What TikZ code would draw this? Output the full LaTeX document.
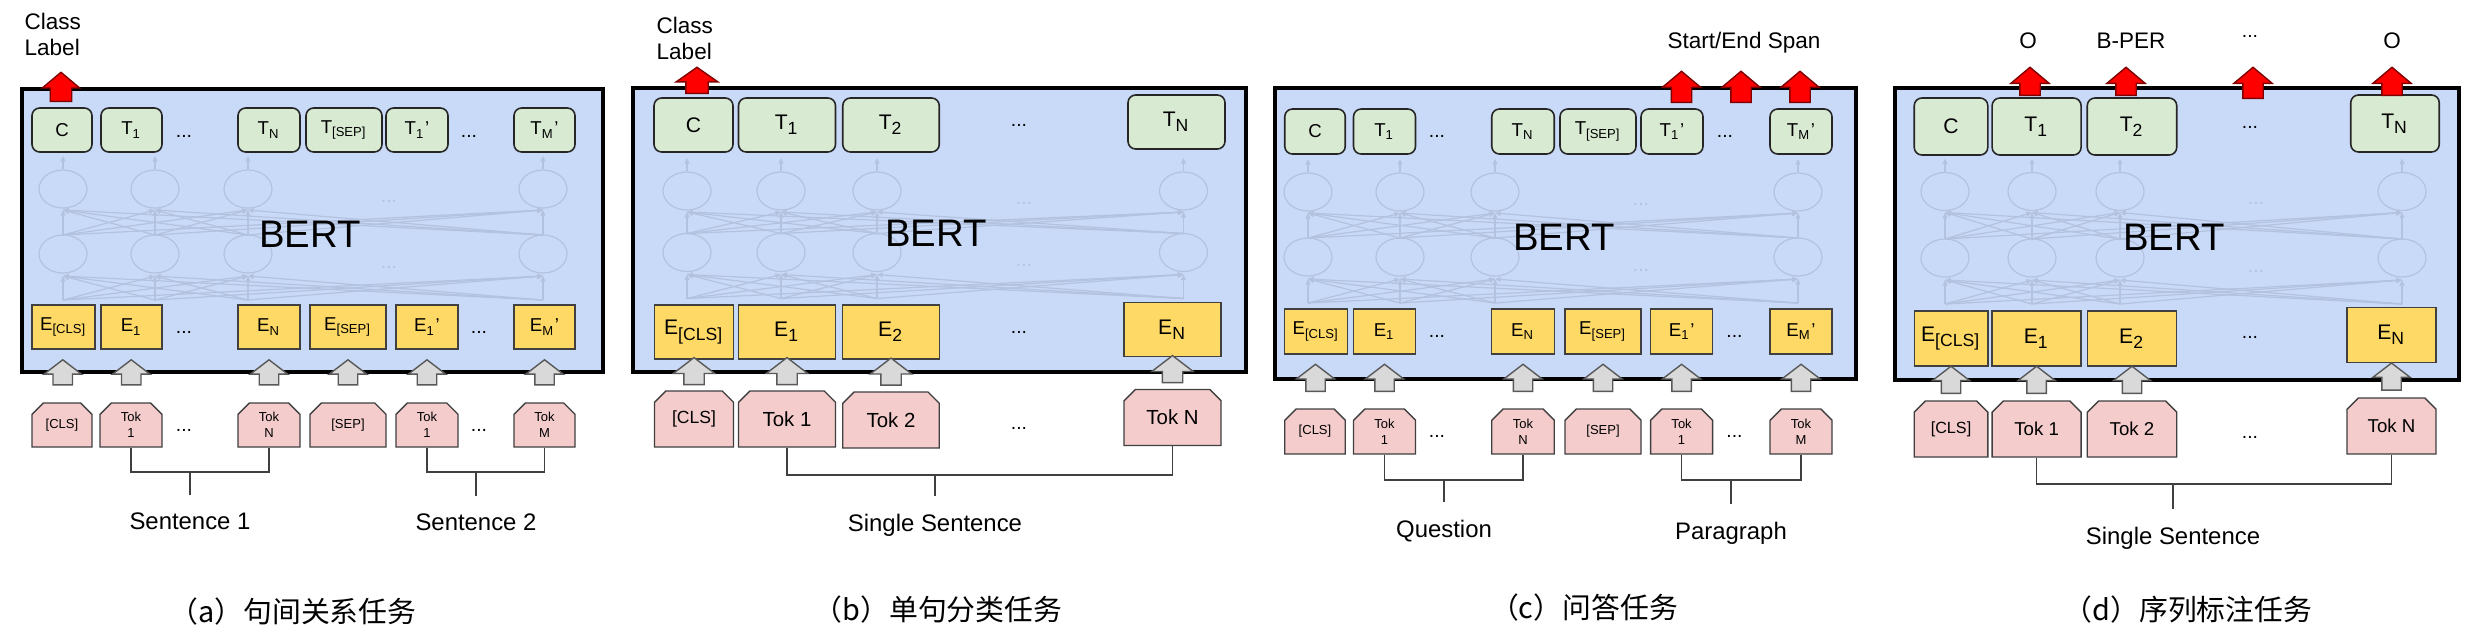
\documentclass[tikz,border=0pt]{standalone}
\usepackage{fontspec}
\setmainfont{Liberation Sans}
\newfontfamily\cjkfont{Noto Sans CJK SC}
\usepackage{xcolor}
\usetikzlibrary{positioning,arrows.meta,shapes.misc,shapes.arrows,calc}

\definecolor{bertblue}{HTML}{C9DAF8}
\definecolor{outgreen}{HTML}{D9EAD3}
\definecolor{embyellow}{HTML}{FFD966}
\definecolor{tokpink}{HTML}{F4CCCC}
\definecolor{ghostline}{HTML}{B3C2DE}
\definecolor{arrgray}{HTML}{D9D9D9}

\newcommand\boxfontS{\fontsize{5.3}{6}\selectfont}
\newcommand\boxfontL{\fontsize{6}{7}\selectfont}
\newcommand\tokfontS{\fontsize{3.7}{4.6}\selectfont}

\begin{document}
\begin{tikzpicture}[
    x=0.01cm, y=-0.01cm,
    bert/.style={draw=black, line width=1pt, fill=bertblue},
    ghost/.style={draw=ghostline, line width=0.35pt},
    ghostarr/.style={ghost, -{Triangle[length=1.6pt,width=1.4pt]}},
    outbox/.style={draw=black!85, fill=outgreen, rounded corners=2.2pt, inner sep=0pt, line width=0.45pt},
    embbox/.style={draw=black!75, fill=embyellow, inner sep=0pt, line width=0.4pt},
    tokbox/.style={chamfered rectangle, chamfered rectangle corners={north west,north east},
      chamfered rectangle sep=1.6pt, draw=black!75, fill=tokpink, inner sep=0pt, line width=0.4pt, align=center},
    redarr/.style={single arrow, rotate=90, anchor=tail, draw=red!50!black, fill=red, inner xsep=0pt,
      inner ysep=0.095cm, line width=0.4pt, single arrow tip angle=100, single arrow head extend=0.09cm},
    grayarr/.style={single arrow, rotate=90, draw=black!65, fill=arrgray, inner xsep=0pt,
      inner ysep=0.09cm, line width=0.4pt, single arrow tip angle=105, single arrow head extend=0.09cm},
    brk/.style={draw=black!75, line width=0.45pt},
    lbl/.style={font=\fontsize{6.4}{7.4}\selectfont, inner sep=0pt},
    sent/.style={font=\fontsize{6.8}{8}\selectfont, inner sep=0pt, outer ysep=5pt},
    captxt/.style={font=\cjkfont\fontsize{8.2}{10}\selectfont},
    bertlbl/.style={font=\fontsize{10.9}{12}\selectfont},
    dots/.style={font=\fontsize{5.5}{6}\selectfont, inner sep=0pt},
    ghostdots/.style={dots, text=ghostline}
  ]
  \fill[white] (0,0) rectangle (2472,632);
  \useasboundingbox (0,0) rectangle (2472,632);

  \draw[bert] (22,89) rectangle (603,372);
  \draw[bert] (633,88) rectangle (1246,372);
  \draw[bert] (1275,88) rectangle (1856,379);
  \draw[bert] (1895,88) rectangle (2459,380);

  % faint network inside BERT
  \foreach \p/\xa/\xb/\xc/\xd/\xdots/\yu/\yl in {a/63/155/248/543/389/189/254,
      b/687/781/877/1183.5/1024/191/252.5, c/1308/1400/1495/1798/1641/192/257,
      d/1945/2032/2120/2402/2256/191.5/258}{
    \foreach \xi in {\xa,\xb,\xc,\xd}{
      \draw[ghost] (\xi,\yu) ellipse [x radius=0.24cm, y radius=0.19cm];
      \draw[ghost] (\xi,\yl) ellipse [x radius=0.24cm, y radius=0.19cm];
      \draw[ghostarr] (\xi,\yu-20) -- (\xi,\yu-33);
      \foreach \xj in {\xa,\xb,\xc,\xd}{
        \draw[ghostarr] (\xi,\yl+46) -- (\xj,\yl+22);
        \draw[ghostarr] (\xi,\yl-19) -- (\xj,\yu+21);
      }
    }
    \node[ghostdots] (\p-gd1) at (\xdots,\yu+12) {...};
    \node[ghostdots] (\p-gd2) at (\xdots,\yl+13) {...};
  }

  \node[bertlbl] (a-bert) at (310,234) {BERT};
  \node[bertlbl] (b-bert) at (936,233) {BERT};
  \node[bertlbl] (c-bert) at (1564,237) {BERT};
  \node[bertlbl] (d-bert) at (2174,237) {BERT};

  % (a)
  \foreach \nm/\x/\w/\lb in {c/62/60/C, 1/131.5/61/{T\textsubscript{1}}, n/269/62/{T\textsubscript{N}},
      sep/344/76/{T\textsubscript{[SEP]}}, 1p/417/62/{T\textsubscript{1}’}, mp/544.5/61/{T\textsubscript{M}’}}
    \node[outbox, font=\boxfontS, minimum width=\w*0.01cm, minimum height=0.44cm] (a-t\nm) at (\x,130) {\lb};
  \foreach \nm/\x/\w/\lb in {c/63.5/63/{E\textsubscript{[CLS]}}, 1/131.5/61/{E\textsubscript{1}}, n/269/62/{E\textsubscript{N}},
      sep/348/76/{E\textsubscript{[SEP]}}, 1p/427/62/{E\textsubscript{1}’}, mp/544.5/61/{E\textsubscript{M}’}}
    \node[embbox, font=\boxfontS, minimum width=\w*0.01cm, minimum height=0.44cm] (a-e\nm) at (\x,327) {\lb};
  \foreach \nm/\x/\w/\lb in {c/62/60/{[CLS]}, 1/131/62/{Tok\\1}, n/269/62/{Tok\\N},
      sep/348/76/{[SEP]}, 1p/427/62/{Tok\\1}, mp/544.5/61/{Tok\\M}}
    \node[tokbox, font=\tokfontS, minimum width=\w*0.01cm, minimum height=0.44cm] (a-k\nm) at (\x,425) {\lb};
  \foreach \nm in {c,1,n,sep,1p,mp}
    \path (a-k\nm.north) -- node[grayarr, minimum height=0.25cm] (a-g\nm) {} (a-e\nm.south);
  \node[redarr, minimum height=0.29cm, inner ysep=0.1cm, single arrow head extend=0.08cm] (a-out) at (61,102) {};
  \node[lbl, align=left, anchor=west] (a-cls) at (24,34) {Class\\Label};
  \node[dots] (a-d1) at (184,136) {...};
  \node[dots] (a-d2) at (469,136) {...};
  \node[dots] (a-d3) at (184,332) {...};
  \node[dots] (a-d4) at (479,332) {...};
  \node[dots] (a-d5) at (184,430) {...};
  \node[dots] (a-d6) at (479,430) {...};
  \node[sent, anchor=base] (a-s1) at (190,529) {Sentence 1};
  \node[sent, anchor=base] (a-s2) at (476,530) {Sentence 2};
  \draw[brk] (a-k1.south) -- ++(0,24) coordinate (a-br1) -| (a-kn.south);
  \draw[brk] (a-br1 -| a-s1.north) -- (a-s1.north);
  \draw[brk] (a-k1p.south) -- ++(0,24) coordinate (a-br2) -| (a-kmp.south);
  \draw[brk] (a-br2 -| a-s2.north) -- (a-s2.north);
  \node[captxt] (a-cap) at (293,612) {（a）句间关系任务};

  % (b)
  \foreach \nm/\x/\y/\w/\lb in {c/693.5/125/79/C, 1/787/125/97/{T\textsubscript{1}},
      2/891/125/96.5/{T\textsubscript{2}}, n/1176.5/122/97/{T\textsubscript{N}}}
    \node[outbox, font=\boxfontL, minimum width=\w*0.01cm, minimum height=0.54cm] (b-t\nm) at (\x,\y) {\lb};
  \foreach \nm/\x/\y/\w/\lb in {c/694/332/79/{E\textsubscript{[CLS]}}, 1/787/332/97/{E\textsubscript{1}},
      2/891/332/96.5/{E\textsubscript{2}}, n/1172.5/329.5/97/{E\textsubscript{N}}}
    \node[embbox, font=\boxfontL, minimum width=\w*0.01cm, minimum height=0.54cm] (b-e\nm) at (\x,\y) {\lb};
  \foreach \nm/\x/\y/\w/\lb in {c/694/419/79/{\fontsize{5}{6}\selectfont[CLS]}, 1/787/419/97/{Tok 1},
      2/891/420/96.5/{Tok 2}, n/1172.5/417.5/97/{Tok N}}
    \node[tokbox, font=\fontsize{5.8}{7}\selectfont, minimum width=\w*0.01cm, minimum height=0.56cm] (b-k\nm) at (\x,\y) {\lb};
  \foreach \nm in {c,1,2,n}
    \path (b-k\nm.north) -- node[grayarr, minimum height=0.27cm, inner ysep=0.095cm,
      single arrow head extend=0.105cm] (b-g\nm) {} (b-e\nm.south);
  \node[redarr, minimum height=0.26cm, inner ysep=0.105cm, single arrow head extend=0.095cm,
    single arrow tip angle=110] (b-out) at (697,94) {};
  \node[lbl, align=left, anchor=west] (b-cls) at (656,38) {Class\\Label};
  \node[dots] (b-d1) at (1019,125) {...};
  \node[dots] (b-d2) at (1019,332) {...};
  \node[dots] (b-d3) at (1019,428) {...};
  \node[sent, anchor=base] (b-s1) at (935,531) {Single Sentence};
  \draw[brk] (b-k1.south) -- ++(0,27) coordinate (b-br1) -| (b-kn.south);
  \draw[brk] (b-br1 -| b-s1.north) -- (b-s1.north);
  \node[captxt] (b-cap) at (938,610) {（b）单句分类任务};

  % (c)
  \foreach \nm/\x/\w/\lb in {c/1315/60.5/C, 1/1384.5/62/{T\textsubscript{1}}, n/1523/62.5/{T\textsubscript{N}},
      sep/1598/76/{T\textsubscript{[SEP]}}, 1p/1672/62/{T\textsubscript{1}’}, mp/1801/62/{T\textsubscript{M}’}}
    \node[outbox, font=\boxfontS, minimum width=\w*0.01cm, minimum height=0.45cm] (c-t\nm) at (\x,131.5) {\lb};
  \foreach \nm/\x/\w/\lb in {c/1316/63/{E\textsubscript{[CLS]}}, 1/1384.5/62/{E\textsubscript{1}}, n/1523/62.5/{E\textsubscript{N}},
      sep/1603/76/{E\textsubscript{[SEP]}}, 1p/1681.6/62/{E\textsubscript{1}’}, mp/1801/62/{E\textsubscript{M}’}}
    \node[embbox, font=\boxfontS, minimum width=\w*0.01cm, minimum height=0.45cm] (c-e\nm) at (\x,331.5) {\lb};
  \foreach \nm/\x/\w/\lb in {c/1315/60.5/{[CLS]}, 1/1384.5/62/{Tok\\1}, n/1523/62.5/{Tok\\N},
      sep/1603/76/{[SEP]}, 1p/1681.6/62/{Tok\\1}, mp/1801/62/{Tok\\M}}
    \node[tokbox, font=\tokfontS, minimum width=\w*0.01cm, minimum height=0.45cm] (c-k\nm) at (\x,431.5) {\lb};
  \foreach \nm in {c,1,n,sep,1p,mp}
    \path (c-k\nm.north) -- node[grayarr, minimum height=0.27cm,
      single arrow head extend=0.095cm] (c-g\nm) {} (c-e\nm.south);
  \node[redarr, minimum height=0.31cm] (c-out1) at (1681.5,103) {};
  \node[redarr, minimum height=0.31cm] (c-out2) at (1741,103) {};
  \node[redarr, minimum height=0.31cm] (c-out3) at (1800,103) {};
  \node[lbl, anchor=base] (c-span) at (1744,48) {Start/End Span};
  \node[dots] (c-d1) at (1437,136) {...};
  \node[dots] (c-d2) at (1725,136) {...};
  \node[dots] (c-d3) at (1437,336) {...};
  \node[dots] (c-d4) at (1734.5,336) {...};
  \node[dots] (c-d5) at (1437,436) {...};
  \node[dots] (c-d6) at (1734.5,436) {...};
  \node[sent, anchor=base] (c-s1) at (1444,537) {Question};
  \node[sent, anchor=base] (c-s2) at (1731,539) {Paragraph};
  \draw[brk] (c-k1.south) -- ++(0,25) coordinate (c-br1) -| (c-kn.south);
  \draw[brk] (c-br1 -| c-s1.north) -- (c-s1.north);
  \draw[brk] (c-k1p.south) -- ++(0,25) coordinate (c-br2) -| (c-kmp.south);
  \draw[brk] (c-br2 -| c-s2.north) -- (c-s2.north);
  \node[captxt] (c-cap) at (1584,608) {（c）问答任务};

  % (d)
  \foreach \nm/\x/\y/\w/\lb in {c/1951/126.5/73.6/C, 1/2036.6/126.5/89/{T\textsubscript{1}},
      2/2132/126.5/89.5/{T\textsubscript{2}}, n/2395/123.5/88.5/{T\textsubscript{N}}}
    \node[outbox, font=\boxfontL, minimum width=\w*0.01cm, minimum height=0.57cm] (d-t\nm) at (\x,\y) {\lb};
  \foreach \nm/\x/\y/\w/\lb in {c/1951/338.5/73.6/{E\textsubscript{[CLS]}}, 1/2036.6/338.5/89/{E\textsubscript{1}},
      2/2132/338.5/89.5/{E\textsubscript{2}}, n/2391.5/335/89/{E\textsubscript{N}}}
    \node[embbox, font=\boxfontL, minimum width=\w*0.01cm, minimum height=0.55cm] (d-e\nm) at (\x,\y) {\lb};
  \foreach \nm/\x/\y/\w/\lb in {c/1951/429/73.6/{\fontsize{4.6}{6}\selectfont[CLS]}, 1/2036.6/429/89/{Tok 1},
      2/2132/429/89.5/{Tok 2}, n/2391.5/426/89/{Tok N}}
    \node[tokbox, font=\fontsize{5.3}{7}\selectfont, minimum width=\w*0.01cm, minimum height=0.56cm] (d-k\nm) at (\x,\y) {\lb};
  \foreach \nm in {c,1,2,n}
    \path (d-k\nm.north) -- node[grayarr, minimum height=0.27cm] (d-g\nm) {} (d-e\nm.south);
  \node[redarr, minimum height=0.28cm] (d-out1) at (2030,96) {};
  \node[redarr, minimum height=0.28cm] (d-out2) at (2126,96) {};
  \node[redarr, minimum height=0.31cm] (d-out3) at (2253,99) {};
  \node[redarr, minimum height=0.28cm] (d-out4) at (2392,96) {};
  \node[lbl, anchor=base] (d-o1) at (2028,48) {O};
  \node[lbl, anchor=base] (d-per) at (2131,48) {B-PER};
  \node[dots] (d-od) at (2250,36) {...};
  \node[lbl, anchor=base] (d-o2) at (2392,48) {O};
  \node[dots] (d-d1) at (2250,127) {...};
  \node[dots] (d-d2) at (2250,337) {...};
  \node[dots] (d-d3) at (2250,437) {...};
  \node[sent, anchor=base] (d-s1) at (2173,544) {Single Sentence};
  \draw[brk] (d-k1.south) -- ++(0,26) coordinate (d-br1) -| (d-kn.south);
  \draw[brk] (d-br1 -| d-s1.north) -- (d-s1.north);
  \node[captxt] (d-cap) at (2188,610) {（d）序列标注任务};
\end{tikzpicture}
\end{document}
